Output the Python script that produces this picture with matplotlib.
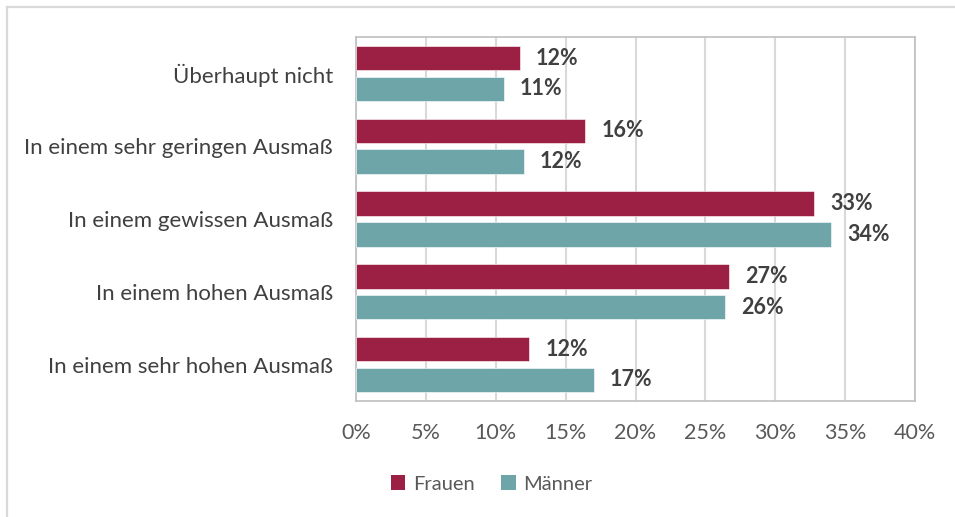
import numpy as np
import matplotlib
matplotlib.use("Agg")
import matplotlib.pyplot as plt
from matplotlib.lines import Line2D
from matplotlib.patches import Patch

categories = ["Überhaupt nicht", "In einem sehr geringen Ausmaß", "In einem gewissen Ausmaß",
              "In einem hohen Ausmaß", "In einem sehr hohen Ausmaß"]
frauen = [11.7, 16.4, 32.8, 26.7, 12.4]
maenner = [10.6, 12.0, 34.0, 26.4, 17.0]
series_names = ["Frauen", "Männer"]
xticks = [0, 5, 10, 15, 20, 25, 30, 35, 40]

c_frauen = "#9B2043"
c_maenner = "#6EA5A8"

plt.rcParams['font.family'] = ['Lato', 'DejaVu Sans']

W, H = 955, 517
fig = plt.figure(figsize=(W / 100, H / 100), dpi=100)
fig.patch.set_facecolor("white")

# plot area in pixels
left, right, top, bottom = 356, 915, 37, 401
ax = fig.add_axes([left / W, 1 - bottom / H, (right - left) / W, (bottom - top) / H])

y = np.arange(len(categories))
bh = 0.335
off = 0.211
ax.barh(y - off, frauen, height=bh, color=c_frauen, edgecolor="white", linewidth=0.4, zorder=3)
ax.barh(y + off, maenner, height=bh, color=c_maenner, edgecolor="white", linewidth=0.4, zorder=3)

for i in range(len(categories)):
    for val, yy in ((frauen[i], y[i] - off), (maenner[i], y[i] + off)):
        ax.annotate(f"{val:.0f}%", xy=(val, yy), xytext=(11.5, 0), textcoords="offset points",
                    ha="left", va="center", fontsize=15.5, fontweight="bold", color="#404040")

ax.set_xlim(0, 40)
ax.set_ylim(len(categories) - 0.5, -0.5)
ax.set_xticks(xticks)
ax.set_xticklabels([f"{t}%" for t in xticks], fontsize=15.5, color="#595959")
ax.set_yticks(y)
ax.set_yticklabels(categories, fontsize=16, color="#404040")
ax.tick_params(axis="both", length=0)
ax.tick_params(axis="x", pad=16)
ax.tick_params(axis="y", pad=16.5)
ax.grid(axis="x", color="#D9D9D9", linewidth=1.5, zorder=0)
for s in ax.spines.values():
    s.set_color("#BFBFBF")
    s.set_linewidth(1.2)

handles = [Patch(facecolor=c_frauen), Patch(facecolor=c_maenner)]
fig.legend(handles, series_names, loc="center", bbox_to_anchor=(492 / W, 1 - 484 / H),
           ncol=2, frameon=False, fontsize=14.5, handlelength=0.7, handleheight=0.7,
           handletextpad=0.4, columnspacing=1.3, labelcolor="#595959")

# chart border (cropped on right and bottom)
fig.add_artist(Line2D([7 / W, 7 / W], [0, 1 - 7 / H], transform=fig.transFigure, color="#D9D9D9", linewidth=1.6))
fig.add_artist(Line2D([7 / W, 1], [1 - 7 / H, 1 - 7 / H], transform=fig.transFigure, color="#D9D9D9", linewidth=1.6))

fig.savefig("out.png", dpi=100)
